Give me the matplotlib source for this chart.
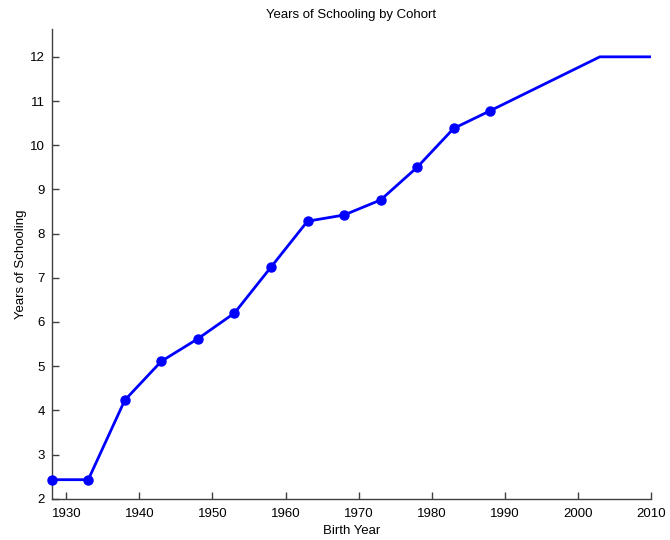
import matplotlib.pyplot as plt

plt.rcParams['font.family'] = ['Liberation Sans', 'DejaVu Sans']

# cohorts with survey points
birth_year = [1928, 1933, 1938, 1943, 1948, 1953, 1958, 1963, 1968, 1973, 1978, 1983, 1988]
schooling = [2.43, 2.43, 4.23, 5.11, 5.62, 6.2, 7.24, 8.28, 8.42, 8.76, 9.5, 10.38, 10.78]

# projected tail (no markers)
tail_year = [1988, 2003, 2010]
tail_school = [10.78, 12, 12]

fig = plt.figure(figsize=(6.7, 5.4), dpi=100)
ax = fig.add_axes([0.0772, 0.0765, 0.8944, 0.8698])

ax.plot(tail_year, tail_school, color='blue', linewidth=2, solid_capstyle='butt')
ax.plot(birth_year, schooling, color='blue', linewidth=2, marker='o', markersize=6.5,
        clip_on=False, zorder=5)

ax.set_xlim(1928, 2010)
ax.set_ylim(2, 12.63)
ax.set_xticks(range(1930, 2011, 10))
ax.set_yticks(range(2, 13))

for s in ['top', 'right']:
    ax.spines[s].set_visible(False)
for s in ['left', 'bottom']:
    ax.spines[s].set_color('#404040')
    ax.spines[s].set_linewidth(1)
ax.tick_params(direction='in', length=5, width=1, color='#404040', labelsize=9.5)
ax.tick_params(axis='x', pad=7)
ax.tick_params(axis='y', pad=5)

ax.set_title('Years of Schooling by Cohort', fontsize=9.5, pad=8)
ax.set_xlabel('Birth Year', fontsize=9.5, labelpad=3)
ax.set_ylabel('Years of Schooling', fontsize=9.5, labelpad=2)

fig.savefig('out.png', dpi=100)
